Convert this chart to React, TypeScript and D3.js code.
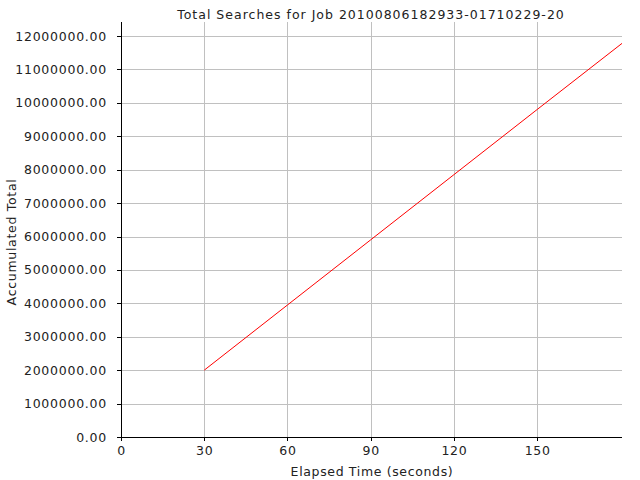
import React from "react";
import * as d3 from "d3";

const title = "Total Searches for Job 20100806182933-01710229-20";
const xLabel = "Elapsed Time (seconds)";
const yLabel = "Accumulated Total";
const times = [30, 60, 90, 120, 150, 180.6];
const totals = [2000000, 3950000, 5900000, 7850000, 9800000, 11780000];
const xTicks = [0, 30, 60, 90, 120, 150];
const yTicks = [0, 1000000, 2000000, 3000000, 4000000, 5000000, 6000000, 7000000, 8000000, 9000000, 10000000, 11000000, 12000000];

const W = 640, H = 480;
const left = 121, right = 622, top = 22, bottom = 437;
const font = "'DejaVu Sans', sans-serif";

export default function App() {
  const x = d3.scaleLinear().domain([0, 180.6]).range([left, right]);
  const y = d3.scaleLinear().domain([0, 12420000]).range([bottom, top]);
  const line = d3.line<number>().x((_, i) => x(times[i])).y((d) => y(d));
  const grid = "#c0c0c0";
  return (
    <svg width={W} height={H} style={{ position: "absolute", left: 0, top: 0, background: "#fff" }} fontFamily={font}>
      <rect x={0} y={0} width={W} height={H} fill="#fff" />
      <text x={371} y={19} textAnchor="middle" fontSize={12.5} letterSpacing={1} fill="#222">{title}</text>
      <g shapeRendering="crispEdges">
        {yTicks.map((t) => (
          <line key={"gy" + t} x1={left} x2={right} y1={Math.round(y(t)) + 0.5} y2={Math.round(y(t)) + 0.5} stroke={grid} />
        ))}
        {xTicks.map((t) => (
          <line key={"gx" + t} x1={Math.round(x(t)) + 0.5} x2={Math.round(x(t)) + 0.5} y1={top} y2={bottom} stroke={grid} />
        ))}
      </g>
      <path d={line(totals) || ""} fill="none" stroke="#ff0000" strokeWidth={1} />
      <g shapeRendering="crispEdges">
        <line x1={left + 0.5} x2={left + 0.5} y1={top} y2={bottom + 1} stroke="#000" />
        <line x1={left} x2={right} y1={bottom + 0.5} y2={bottom + 0.5} stroke="#000" />
        {yTicks.map((t) => (
          <line key={"ty" + t} x1={left - 4} x2={left} y1={Math.round(y(t)) + 0.5} y2={Math.round(y(t)) + 0.5} stroke="#000" />
        ))}
        {xTicks.map((t) => (
          <line key={"tx" + t} x1={Math.round(x(t)) + 0.5} x2={Math.round(x(t)) + 0.5} y1={bottom} y2={bottom + 4} stroke="#000" />
        ))}
      </g>
      {yTicks.map((t) => (
        <text key={"ly" + t} x={left - 14} y={y(t) + 4.5} textAnchor="end" fontSize={12.5} letterSpacing={0.75} fill="#222">{d3.format(".2f")(t)}</text>
      ))}
      {xTicks.map((t) => (
        <text key={"lx" + t} x={x(t) + 0.5} y={bottom + 18} textAnchor="middle" fontSize={12.5} letterSpacing={0.7} fill="#222">{t}</text>
      ))}
      <text x={372} y={476} textAnchor="middle" fontSize={12.5} letterSpacing={0.65} fill="#222">{xLabel}</text>
      <text transform={`translate(16, 242) rotate(-90)`} textAnchor="middle" fontSize={12.5} letterSpacing={0.7} fill="#222">{yLabel}</text>
    </svg>
  );
}
